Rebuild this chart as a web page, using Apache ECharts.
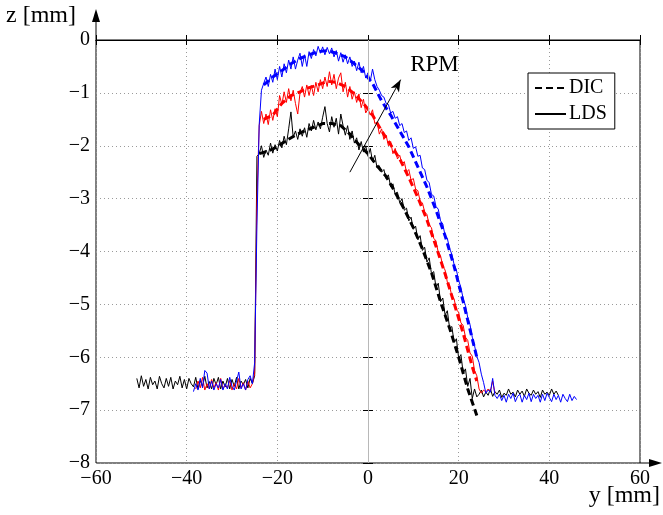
<!DOCTYPE html>
<html><head><meta charset="utf-8">
<script src="https://cdn.jsdelivr.net/npm/echarts@6/dist/echarts.min.js"></script>
<style>html,body{margin:0;padding:0;background:#fff}#c{width:663px;height:515px}</style>
</head><body><div id="c"></div>
<script>
const FONT = "'Liberation Serif','Times New Roman',serif";
const xTicks = [-60,-40,-20,0,20,40,60];
const yTicks = [-8,-7,-6,-5,-4,-3,-2,-1,0];
const ldsStep = 0.5;

// LDS (laser) profiles, sampled every 0.5 mm; each segment has its starting y position
const blackLdsLeftStart = -51;
const blackLdsLeft = [-6.4,-6.58,-6.35,-6.55,-6.42,-6.6,-6.38,-6.52,-6.45,-6.6,-6.36,-6.5,-6.58,-6.4,-6.55,-6.38,-6.6,-6.45,-6.52,-6.36,-6.58,-6.42,-6.6,-6.4,-6.5,-6.56,-6.38,-6.6,-6.44,-6.55,-6.36,-6.58,-6.46,-6.6,-6.4,-6.52,-6.38,-6.6,-6.45,-6.56,-6.4,-6.6,-6.42,-6.55,-6.38,-6.6,-6.45,-6.52,-6.42,-6.58,-6.4,-6.5];
const blackLdsMainStart = -25;
const blackLdsMain = [-6.35,-2.2,
 -2.15,-2.0,-2.22,-2.08,-2.18,-1.95,-2.14,-1.98,-2.1,-1.9,-2.04,-1.82,-1.98,-1.68,-1.36,-1.84,-1.72,-1.88,-1.68,-1.82,-1.66,-1.84,-1.58,-1.72,-1.52,-1.7,-1.55,-1.68,-1.46,-1.26,-1.58,-1.74,-1.45,-1.65,-1.48,-1.78,-1.4,-1.62,-1.8,-1.62,-1.88,-1.72,-1.95,-1.85,-2.08,-1.92,-2.12,-2.0,
 -2.2,-2.05,-2.3,-2.18,-2.42,-2.38,-2.5,-2.45,-2.62,-2.55,-2.78,-2.72,-2.92,-2.88,-3.08,-3.0,-3.22,-3.18,-3.42,-3.35,-3.58,-3.52,-3.78,-3.7,-3.98,-3.92,-4.2,-4.12,-4.42,-4.38,-4.68,-4.6,-4.95,-4.88,-5.2,-5.12,-5.45,-5.42,-5.72,-5.65,-6.02,-5.95,-6.3,-6.22,-6.55,-6.4,-6.78,-6.6,-6.75];
const blackLdsRightStart = 24.5;
const blackLdsRight = [-6.7,-6.62,-6.75,-6.66,-6.72,-6.6,-6.74,-6.65,-6.7,-6.62,-6.76,-6.68,-6.72,-6.6,-6.7,-6.66,-6.75,-6.62,-6.7,-6.64,-6.74,-6.6,-6.68,-6.72,-6.62,-6.7,-6.65,-6.76,-6.62,-6.7,-6.66,-6.72,-6.6,-6.7,-6.64,-6.72];

const redLdsLeftStart = -38;
const redLdsLeft = [-6.6,-6.45,-6.58,-6.38,-6.62,-6.5,-6.6,-6.42,-6.58,-6.48,-6.62,-6.4,-6.6,-6.52,-6.58,-6.44,-6.62,-6.5,-6.6,-6.4,-6.58,-6.48,-6.62,-6.45,-6.58,-6.5];
const redLdsMainStart = -25;
const redLdsMain = [-6.3,-3.0,
 -1.62,-1.35,-1.58,-1.4,-1.6,-1.32,-1.52,-1.3,-1.45,-1.05,-1.22,-0.98,-1.18,-0.92,-1.15,-0.95,-1.2,-1.4,-1.0,-0.88,-1.08,-0.85,-1.05,-0.86,-1.05,-0.8,-0.98,-0.75,-0.92,-0.7,-0.88,-0.6,-0.85,-0.65,-0.92,-0.72,-0.62,-0.98,-0.8,-1.08,-0.88,-1.12,-0.98,-1.18,-1.02,-1.28,-1.12,-1.38,
 -1.3,-1.42,-1.32,-1.58,-1.55,-1.78,-1.68,-1.88,-1.8,-2.0,-1.92,-2.15,-2.05,-2.25,-2.18,-2.35,-2.3,-2.5,-2.45,-2.65,-2.62,-2.82,-2.85,-3.05,-3.08,-3.25,-3.3,-3.5,-3.55,-3.75,-3.8,-4.02,-4.08,-4.28,-4.35,-4.58,-4.65,-4.85,-4.9,-5.1,-5.15,-5.35,-5.4,-5.62,-5.68,-5.92,-5.98,-6.25,-6.35,-6.6,-6.68,-6.62,-6.66,-6.6,-6.65,-6.45,-6.68];

const blueLdsLeftStart = -38.5;
const blueLdsLeft = [-6.65,-6.5,-6.62,-6.4,-6.58,-6.25,-6.3,-6.6,-6.45,-6.62,-6.5,-6.58,-6.42,-6.62,-6.5,-6.6,-6.38,-6.55,-6.62,-6.45,-6.28,-6.6,-6.5,-6.62,-6.42,-6.35,-6.5];
const blueLdsMainStart = -25;
const blueLdsMain = [-6.1,-3.5,-1.6,-0.95,
 -0.82,-0.7,-0.88,-0.65,-0.8,-0.55,-0.75,-0.5,-0.7,-0.45,-0.62,-0.38,-0.55,-0.32,-0.55,-0.38,-0.25,-0.5,-0.28,-0.5,-0.22,-0.35,-0.18,-0.3,-0.12,-0.25,-0.13,-0.28,-0.14,-0.26,-0.15,-0.32,-0.2,-0.4,-0.24,-0.42,-0.28,-0.45,-0.32,-0.5,-0.4,-0.58,-0.42,-0.62,-0.5,-0.72,
 -0.62,-0.78,-0.55,-0.75,-0.88,-0.95,-1.05,-1.08,-1.2,-1.22,-1.38,-1.35,-1.48,-1.45,-1.62,-1.58,-1.75,-1.72,-1.9,-1.85,-2.05,-2.02,-2.2,-2.18,-2.42,-2.45,-2.65,-2.7,-2.92,-2.95,-3.15,-3.2,-3.42,-3.48,-3.7,-3.75,-3.95,-4.05,-4.25,-4.35,-4.55,-4.68,-4.9,-5.02,-5.25,-5.38,-5.62,-5.78,-5.98,-6.1,-6.32,-6.48,-6.68,-6.62,-6.66,-6.4,-6.72,-6.78];
const blueLdsRightStart = 29;
const blueLdsRight = [-6.7,-6.82,-6.72,-6.85,-6.7,-6.78,-6.68,-6.84,-6.74,-6.7,-6.85,-6.72,-6.8,-6.68,-6.84,-6.7,-6.78,-6.72,-6.85,-6.7,-6.82,-6.68,-6.76,-6.84,-6.7,-6.8,-6.72,-6.85,-6.7,-6.78,-6.84,-6.7,-6.82,-6.74,-6.8];

// DIC profiles
const blackDicX = [-24,-22,-20,-18,-16,-14,-12,-10,-8,-6,-4,-2,0,2,4,6,8,10,12,14,16,18,20,22,23,24];
const blackDicY = [-2.15,-2.1,-2.02,-1.9,-1.8,-1.72,-1.65,-1.58,-1.58,-1.62,-1.78,-1.98,-2.15,-2.38,-2.58,-2.88,-3.2,-3.55,-3.95,-4.4,-4.95,-5.45,-6.0,-6.6,-6.85,-7.1];
const redDicX = [-23,-21,-19,-17,-15,-13,-11,-9,-7,-5,-3,-1,1,3,5,7,9,11,13,15,17,19,21,23,24];
const redDicY = [-1.5,-1.42,-1.2,-1.05,-0.98,-0.9,-0.85,-0.78,-0.8,-0.88,-1.02,-1.2,-1.42,-1.72,-1.98,-2.25,-2.6,-2.98,-3.4,-3.9,-4.42,-4.98,-5.55,-6.18,-6.45];
const blueDicX = [-23,-21,-19,-17,-15,-13,-11,-9,-7,-5,-3,-1,1,3,5,7,9,11,13,15,17,19,21,23,24];
const blueDicY = [-0.85,-0.7,-0.58,-0.45,-0.35,-0.28,-0.22,-0.2,-0.25,-0.32,-0.45,-0.6,-0.82,-1.15,-1.42,-1.72,-2.02,-2.4,-2.78,-3.22,-3.7,-4.28,-4.95,-5.65,-6.0];

// RPM annotation arrow (data coordinates)
const rpmArrowFrom = [-4, -2.5];
const rpmArrowTo = [7.2, -0.75];
const rpmLabelAt = [9.3, -0.48];

function seg(start, ys){ return ys.map((y,i)=>[start + ldsStep*i, y]); }
function pairs(xs, ys){ return xs.map((x,i)=>[x, ys[i]]); }
const minus = v => String(v).replace('-', '\u2212');

const blackLds = seg(blackLdsLeftStart, blackLdsLeft).concat(seg(blackLdsMainStart, blackLdsMain), seg(blackLdsRightStart, blackLdsRight));
const redLds = seg(redLdsLeftStart, redLdsLeft).concat(seg(redLdsMainStart, redLdsMain));
const blueLds = seg(blueLdsLeftStart, blueLdsLeft).concat(seg(blueLdsMainStart, blueLdsMain), seg(blueLdsRightStart, blueLdsRight));

function ldsSeries(data, color){
  return {type:'line', data, symbol:'none', showSymbol:false, silent:true, animation:false,
    lineStyle:{color, width:1}, itemStyle:{color}};
}
function dicSeries(data, color){
  return {type:'line', data, symbol:'none', showSymbol:false, silent:true, animation:false,
    lineStyle:{color, width:3, type:[7,4]}, itemStyle:{color}};
}

const chart = echarts.init(document.getElementById('c'), null, {renderer:'canvas'});
const axisCommon = {
  type:'value', axisLine:{show:true, lineStyle:{color:'#000', width:1}},
  axisTick:{show:true, inside:true, length:5, lineStyle:{color:'#000'}},
};
chart.setOption({
  animation:false,
  backgroundColor:'#fff',
  textStyle:{fontFamily:FONT},
  grid:{left:96, right:23, top:40, bottom:52, show:true, borderColor:'#000', borderWidth:1},
  legend:{data:[{name:'DIC', itemStyle:{opacity:0}}, {name:'LDS', itemStyle:{opacity:0}}],
    orient:'vertical', left:528, top:73, padding:[5,8,5,6],
    itemWidth:31, itemHeight:10, itemGap:6, borderColor:'#000', borderWidth:1, borderRadius:0,
    backgroundColor:'#fff', textStyle:{fontFamily:FONT, fontSize:20, color:'#000', padding:[0,0,0,-2]}},
  xAxis:[
    Object.assign({}, axisCommon, {min:-60, max:60, interval:20, position:'bottom',
      axisLabel:{fontFamily:FONT, fontSize:20, color:'#000', margin:6, formatter:minus},
      splitLine:{show:true, lineStyle:{color:'#9a9a9a', type:[1,3], width:1}}}),
    Object.assign({}, axisCommon, {min:-60, max:60, interval:20, position:'top',
      axisLabel:{show:false}, splitLine:{show:false}})
  ],
  yAxis:[
    Object.assign({}, axisCommon, {min:-8, max:0, interval:1, position:'left',
      axisLabel:{fontFamily:FONT, fontSize:20, color:'#000', margin:6, formatter:minus},
      splitLine:{show:true, lineStyle:{color:'#9a9a9a', type:[1,3], width:1}}}),
    Object.assign({}, axisCommon, {min:-8, max:0, interval:1, position:'right',
      axisLabel:{show:false}, splitLine:{show:false}})
  ],
  series:[
    {type:'line', data:[], symbol:'none', silent:true,
     markLine:{silent:true, symbol:['none','none'], label:{show:false},
       lineStyle:{color:'#b8b8b8', width:1, type:'solid'}, data:[{xAxis:0}]}},
    ldsSeries(blackLds, '#000'),
    dicSeries(pairs(blackDicX, blackDicY), '#000'),
    ldsSeries(redLds, '#ff0000'),
    dicSeries(pairs(redDicX, redDicY), '#ff0000'),
    ldsSeries(blueLds, '#0000ff'),
    dicSeries(pairs(blueDicX, blueDicY), '#0000ff'),
    {type:'line', name:'DIC', data:[], symbol:'none', showSymbol:false, color:'#000', lineStyle:{color:'#000', width:3, type:[7,4]}},
    {type:'line', name:'LDS', data:[], symbol:'none', showSymbol:false, color:'#000', lineStyle:{color:'#000', width:1}},
    {type:'line', data:[], symbol:'none', silent:true,
     markLine:{silent:true, symbol:['none','arrow'], symbolSize:[7,12], label:{show:false},
       lineStyle:{color:'#000', width:1, type:'solid'},
       data:[[{coord:rpmArrowFrom},{coord:rpmArrowTo}]]}}
  ]
});

const topLeft = chart.convertToPixel({gridIndex:0}, [-60, 0]);
const botRight = chart.convertToPixel({gridIndex:0}, [60, -8]);
const rpm = chart.convertToPixel({gridIndex:0}, rpmLabelAt);
chart.setOption({graphic:[
  {type:'line', shape:{x1:topLeft[0], y1:topLeft[1], x2:topLeft[0], y2:14}, style:{stroke:'#000', lineWidth:1}},
  {type:'polygon', shape:{points:[[topLeft[0],9],[topLeft[0]-4,22],[topLeft[0]+4,22]]}, style:{fill:'#000'}},
  {type:'line', shape:{x1:botRight[0], y1:botRight[1], x2:656, y2:botRight[1]}, style:{stroke:'#000', lineWidth:1}},
  {type:'polygon', shape:{points:[[662,botRight[1]],[649,botRight[1]-4],[649,botRight[1]+4]]}, style:{fill:'#000'}},
  {type:'text', left:6, top:4, style:{text:'z [mm]', font:'24px '+FONT, fill:'#000'}},
  {type:'text', right:3, top:484, style:{text:'y [mm]', font:'24px '+FONT, fill:'#000'}},
  {type:'text', x:rpm[0], y:rpm[1], style:{text:'RPM', font:'23px '+FONT, fill:'#000', textVerticalAlign:'middle'}}
]});
</script></body></html>
